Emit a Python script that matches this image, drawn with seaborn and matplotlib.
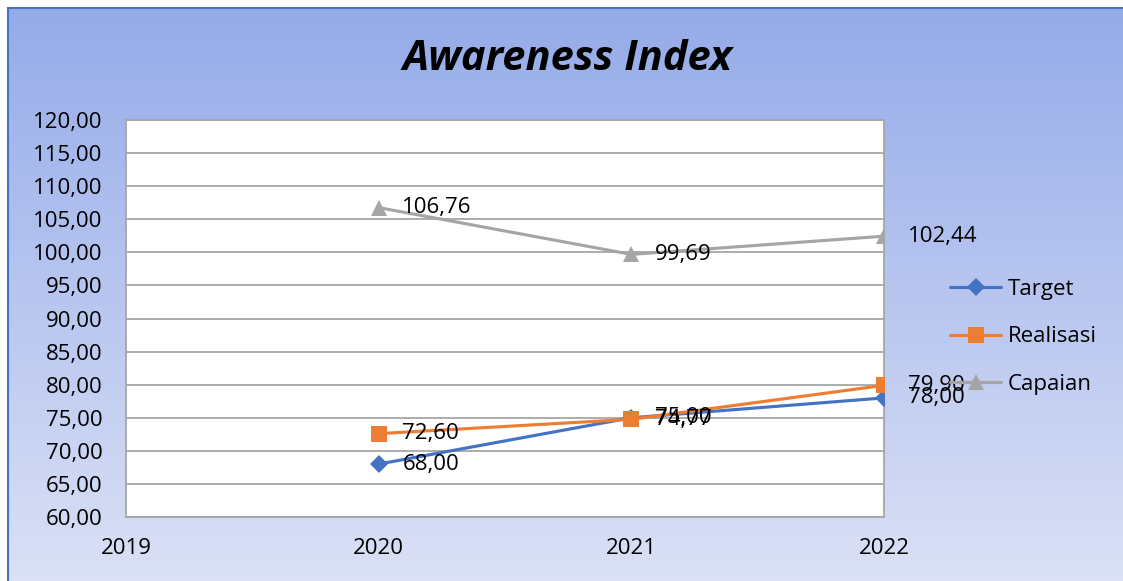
import numpy as np
import pandas as pd
import matplotlib
matplotlib.use("Agg")
import matplotlib.pyplot as plt
from matplotlib.patches import Rectangle
import seaborn as sns

# Data
years = [2020, 2021, 2022]
target = [68.00, 75.00, 78.00]
realisasi = [72.60, 74.77, 79.90]
capaian = [106.76, 99.69, 102.44]

series = ["Target", "Realisasi", "Capaian"]
colors = {"Target": "#4472C4", "Realisasi": "#ED7D31", "Capaian": "#A5A5A5"}
markers = {"Target": "D", "Realisasi": "s", "Capaian": "^"}
msizes = {"Target": 9, "Realisasi": 11, "Capaian": 11}

df = pd.DataFrame({
    "year": years * 3,
    "value": target + realisasi + capaian,
    "series": ["Target"] * 3 + ["Realisasi"] * 3 + ["Capaian"] * 3,
})

sns.set_style("white")
plt.rcParams["font.family"] = ["Open Sans", "DejaVu Sans"]
plt.rcParams["text.color"] = "black"
plt.rcParams["xtick.color"] = "black"
plt.rcParams["ytick.color"] = "black"

W, H = 1123, 581
fig = plt.figure(figsize=(W / 100, H / 100), dpi=100)

# gradient background with blue border
bg = fig.add_axes([0, 0, 1, 1], zorder=-10)
bg.set_axis_off()
top_c = np.array([149, 171, 233]) / 255
bot_c = np.array([222, 227, 246]) / 255
t = np.linspace(0, 1, 256)[:, None]
grad = top_c * (1 - t[..., None]) + bot_c * t[..., None]
grad = np.repeat(grad, 2, axis=1)
bg.imshow(grad, aspect="auto", extent=[8 / W, 1.2, -0.05, 1 - 8 / H],
          transform=bg.transAxes, interpolation="bilinear")
bg.set_xlim(0, 1)
bg.set_ylim(0, 1)
bg.add_patch(Rectangle((8 / W, -0.1), 1.2, 1.1 - 8 / H, transform=bg.transAxes,
                       fill=False, edgecolor="#4472C4", linewidth=1.5))

ax = fig.add_axes([126 / W, 1 - 517 / H, (884 - 126) / W, (517 - 120) / H])
ax.set_facecolor("white")

for s in series:
    d = df[df["series"] == s]
    sns.lineplot(data=d, x="year", y="value", ax=ax, color=colors[s],
                 marker=markers[s], markersize=msizes[s], markeredgewidth=0,
                 linewidth=2.25, label=s, zorder=3)
    for x, v in zip(d["year"], d["value"]):
        ax.annotate(f"{v:.2f}".replace(".", ","), (x, v), xytext=(17, 0),
                    textcoords="offset points", va="center", ha="left",
                    fontsize=16, color="black", zorder=5)

ax.set_xlim(2019, 2022)
ax.set_ylim(60, 120)
ax.set_xticks([2019, 2020, 2021, 2022])
ax.set_yticks(np.arange(60, 121, 5))
ax.set_yticklabels([f"{v:.2f}".replace(".", ",") for v in np.arange(60, 121, 5)])
ax.tick_params(axis="both", length=0, labelsize=16)
ax.tick_params(axis="x", pad=15)
ax.tick_params(axis="y", pad=17)
ax.grid(axis="y", color="#a6a6a6", linewidth=1.3)
for sp in ax.spines.values():
    sp.set_color("#a6a6a6")
    sp.set_linewidth(1.3)
ax.set_xlabel("")
ax.set_ylabel("")

handles, labels = ax.get_legend_handles_labels()
ax.legend_.remove()
fig.legend(handles, labels, loc="center left",
           bbox_to_anchor=(930 / W, 1 - 337 / H), frameon=False,
           fontsize=16, handlelength=2.3, handletextpad=0.3, labelspacing=1.2)

fig.text(567 / W, 1 - 59 / H, "Awareness Index", ha="center", va="center",
         fontsize=30, fontweight="bold", fontstyle="italic")

fig.savefig("out.png", dpi=100)
